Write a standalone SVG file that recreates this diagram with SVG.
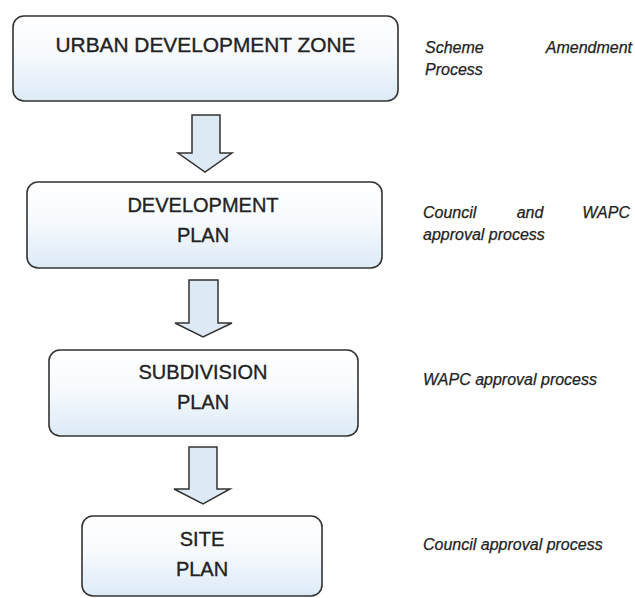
<svg xmlns="http://www.w3.org/2000/svg" width="635" height="598" viewBox="0 0 635 598">
  <defs>
    <linearGradient id="boxFill" x1="0" y1="0" x2="0" y2="1">
      <stop offset="0" stop-color="#ffffff"/>
      <stop offset="0.45" stop-color="#f7fafd"/>
      <stop offset="1" stop-color="#dceaf7"/>
    </linearGradient>
    <style>
      .box { fill: url(#boxFill); stroke: #333333; stroke-width: 1.6; }
      .arrow { fill: #dde9f5; stroke: #333333; stroke-width: 1.5; stroke-linejoin: miter; }
      .title { font-family: "Liberation Sans", Arial, sans-serif; font-size: 20px; fill: #222222; stroke: #222222; stroke-width: 0.35; text-anchor: middle; }
      .note { font-family: "Liberation Sans", Arial, sans-serif; font-style: italic; font-size: 16px; fill: #222222; stroke: #222222; stroke-width: 0.25; }
    </style>
  </defs>
  <rect width="635" height="598" fill="#ffffff"/>

  <g id="connectors">
    <path class="arrow" d="M192,115 L220,115 L220,153 L232,153 L205,172 L178,153 L192,153 Z"/>
    <path class="arrow" d="M189,280 L218,280 L218,323 L232,323 L203,337 L175,323 L189,323 Z"/>
    <path class="arrow" d="M189,447 L217,447 L217,489 L230,489 L203,504 L174,489 L189,489 Z"/>
  </g>

  <g id="node-urban-development-zone">
    <rect class="box" x="13" y="16" width="385" height="85" rx="11" ry="11"/>
    <text class="title" x="205.5" y="52" font-size="21" textLength="300" lengthAdjust="spacingAndGlyphs">URBAN DEVELOPMENT ZONE</text>
  </g>

  <g id="node-development-plan">
    <rect class="box" x="27" y="182" width="355" height="86" rx="11" ry="11"/>
    <text class="title" x="203" y="212">DEVELOPMENT</text>
    <text class="title" x="203" y="242">PLAN</text>
  </g>

  <g id="node-subdivision-plan">
    <rect class="box" x="49" y="350" width="309" height="86" rx="11" ry="11"/>
    <text class="title" x="203" y="379">SUBDIVISION</text>
    <text class="title" x="203" y="409">PLAN</text>
  </g>

  <g id="node-site-plan">
    <rect class="box" x="82" y="516" width="240" height="80" rx="11" ry="11"/>
    <text class="title" x="202" y="546">SITE</text>
    <text class="title" x="202" y="576">PLAN</text>
  </g>

  <g id="labels">
    <text class="note" y="53"><tspan x="425">Scheme</tspan><tspan x="632" text-anchor="end">Amendment</tspan></text>
    <text class="note" x="425" y="75">Process</text>
    <text class="note" y="218"><tspan x="423">Council</tspan><tspan x="530" text-anchor="middle">and</tspan><tspan x="630" text-anchor="end">WAPC</tspan></text>
    <text class="note" x="423" y="240">approval process</text>
    <text class="note" x="423" y="385" font-size="16.5">WAPC approval process</text>
    <text class="note" x="423" y="550" font-size="16.5">Council approval process</text>
  </g>
</svg>
